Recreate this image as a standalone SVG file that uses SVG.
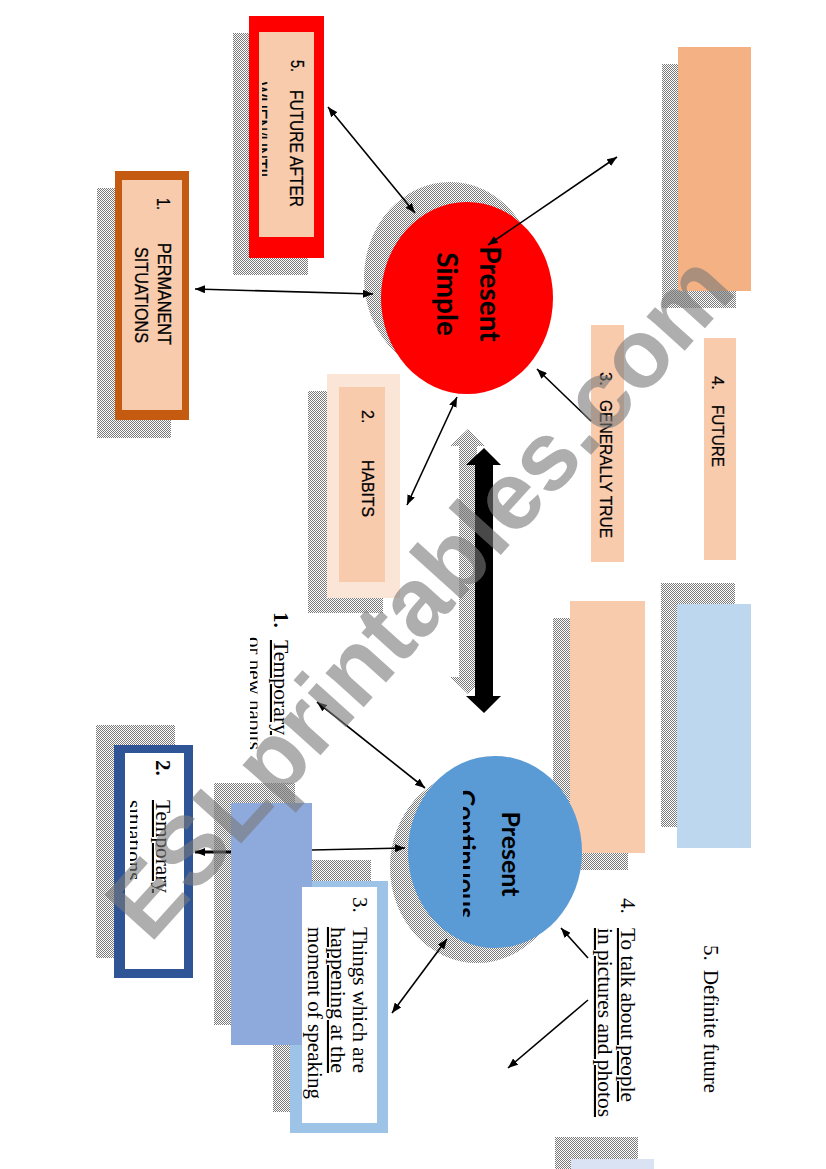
<svg xmlns="http://www.w3.org/2000/svg" width="826" height="1169" viewBox="0 0 826 1169">
<defs>
<pattern id="dots" width="2" height="2" patternUnits="userSpaceOnUse">
<rect width="2" height="2" fill="#fff"/>
<rect width="1" height="1" fill="#7a7a7a"/>
<rect x="1" y="1" width="1" height="1" fill="#7a7a7a"/>
</pattern>
<marker id="ah" viewBox="0 0 10 8" refX="10" refY="4" markerWidth="10" markerHeight="8" markerUnits="userSpaceOnUse" orient="auto-start-reverse">
<path d="M0,0 L10,4 L0,8 z" fill="#000"/>
</marker>
<clipPath id="c5"><rect x="262" y="0" width="100" height="300"/></clipPath>
<clipPath id="cT1"><rect x="250" y="600" width="7.5" height="200"/></clipPath>
<clipPath id="cT2"><rect x="130" y="760" width="8" height="200"/></clipPath>
<clipPath id="cPC"><rect x="463" y="760" width="100" height="200"/></clipPath>
</defs>
<style>
.sh{fill:url(#dots)}
.sans{font-family:"Liberation Sans",Arial,sans-serif;font-size:18px;fill:#000;stroke:#000;stroke-width:0.25}
.serif{font-family:"Liberation Serif","Times New Roman",serif;font-size:21px;fill:#000}
.big{font-family:Lato,"Liberation Sans",sans-serif;font-weight:bold;fill:#000}
.conn line{stroke:#000;stroke-width:1.6;fill:none}
.pe{fill:#F8CBAD}
</style>
<rect width="826" height="1169" fill="#fff"/>

<g id="box5">
<rect class="sh" x="233" y="33" width="75" height="242"/>
<rect x="249" y="16" width="75" height="242" fill="#FF0000"/>
<rect class="pe" x="259" y="32" width="55" height="205"/>
<text class="sans" transform="translate(291,60) rotate(90)" textLength="12" lengthAdjust="spacingAndGlyphs">5.</text>
<text class="sans" transform="translate(290,90) rotate(90)" textLength="117" lengthAdjust="spacingAndGlyphs">FUTURE AFTER</text>
<g clip-path="url(#c5)"><text class="sans" transform="translate(254,82) rotate(90)" textLength="100" lengthAdjust="spacingAndGlyphs">WHEN/UNTIL</text></g>
</g>

<g id="box1">
<rect class="sh" x="97" y="188" width="74" height="250"/>
<rect x="115" y="171" width="74" height="249" fill="#C55A11"/>
<rect class="pe" x="122" y="180" width="60" height="230"/>
<text class="sans" transform="translate(157,198) rotate(90)" textLength="12" lengthAdjust="spacingAndGlyphs">1.</text>
<text class="sans" transform="translate(158,243) rotate(90)" textLength="102" lengthAdjust="spacingAndGlyphs">PERMANENT</text>
<text class="sans" transform="translate(135,247) rotate(90)" textLength="96" lengthAdjust="spacingAndGlyphs">SITUATIONS</text>
</g>

<g id="orangeRect">
<rect class="sh" x="662" y="64" width="74" height="244"/>
<rect x="678" y="47" width="73" height="244" fill="#F4B183"/>
</g>

<g id="box3gen">
<rect class="pe" x="591" y="325" width="33" height="237"/>
<text class="sans" style="font-size:16.5px" transform="translate(600,372) rotate(90)">3.</text>
<text class="sans" style="font-size:16.5px" transform="translate(600,400) rotate(90)" textLength="138" lengthAdjust="spacingAndGlyphs">GENERALLY TRUE</text>
</g>

<g id="box4future">
<rect class="pe" x="704" y="338" width="32" height="222"/>
<text class="sans" style="font-size:16.5px" transform="translate(711.5,376) rotate(90)">4.</text>
<text class="sans" style="font-size:16.5px" transform="translate(711.5,405) rotate(90)" textLength="62" lengthAdjust="spacingAndGlyphs">FUTURE</text>
</g>

<g id="boxHabits">
<rect class="sh" x="308" y="391" width="75" height="222"/>
<rect x="327" y="374" width="73" height="224" fill="#FBE5D6"/>
<rect class="pe" x="339" y="387" width="46" height="195"/>
<text class="sans" style="font-size:16px" transform="translate(362,410) rotate(90)">2.</text>
<text class="sans" style="font-size:16px" transform="translate(362,460) rotate(90)" textLength="57" lengthAdjust="spacingAndGlyphs">HABITS</text>
</g>

<g id="presentSimple">
<ellipse class="sh" cx="450" cy="278" rx="86" ry="96"/>
<ellipse cx="467" cy="298" rx="86" ry="96" fill="#FF0000"/>
<text class="big" font-size="28" text-anchor="middle" transform="translate(480,294) rotate(90)">Present</text>
<text class="big" font-size="28" text-anchor="middle" transform="translate(437,294) rotate(90)">Simple</text>
</g>

<g id="bigArrow">
<polygon class="sh" points="468,429 485,446 477,446 477,677 485,677 468,694 450,677 459,677 459,446 450,446"/>
<polygon points="484,448 501,465 493,465 493,696 501,696 484,713 466,696 475,696 475,465 466,465" fill="#000"/>
</g>

<g id="peachRect2">
<rect class="sh" x="553" y="618" width="75" height="252"/>
<rect class="pe" x="570" y="601" width="75" height="252"/>
</g>

<g id="blueRect">
<rect class="sh" x="661" y="583" width="74" height="244"/>
<rect x="677" y="604" width="74" height="244" fill="#BDD7EE"/>
</g>

<g id="bottomRect">
<rect class="sh" x="555" y="1137" width="83" height="40"/>
<rect x="571" y="1159" width="83" height="20" fill="#DAE3F3"/>
</g>

<g id="presentContinuous">
<ellipse class="sh" cx="477" cy="867" rx="87" ry="96"/>
<ellipse cx="495" cy="852" rx="87" ry="96" fill="#5B9BD5"/>
<text class="big" font-size="25" text-anchor="middle" transform="translate(502,854) rotate(90)">Present</text>
<g clip-path="url(#cPC)"><text class="big" font-size="25" text-anchor="middle" transform="translate(457,854) rotate(90)">Continuous</text></g>
</g>

<g id="tempHabits">
<text class="serif" font-weight="bold" transform="translate(274,612) rotate(90)">1.</text>
<text class="serif" text-decoration="underline" transform="translate(274,640) rotate(90)" textLength="95" lengthAdjust="spacingAndGlyphs">Temporary</text>
<g clip-path="url(#cT1)"><text class="serif" transform="translate(248,637) rotate(90)" textLength="113" lengthAdjust="spacingAndGlyphs">or new habits</text></g>
</g>

<g id="box2temp">
<rect class="sh" x="96" y="725" width="79" height="233"/>
<rect x="114" y="745" width="79" height="233" fill="#2F5597"/>
<rect x="125" y="753" width="59" height="216" fill="#fff"/>
<text class="serif" font-weight="bold" transform="translate(156,760) rotate(90)">2.</text>
<text class="serif" text-decoration="underline" transform="translate(156,800) rotate(90)" textLength="93" lengthAdjust="spacingAndGlyphs">Temporary</text>
<g clip-path="url(#cT2)"><text class="serif" transform="translate(127,800) rotate(90)">situations</text></g>
</g>

<g id="box3things">
<rect class="sh" x="273" y="860" width="98" height="252"/>
<rect x="290" y="881" width="98" height="252" fill="#9DC3E6"/>
</g>

<g id="violetRect">
<rect class="sh" x="214" y="783" width="81" height="242"/>
<rect x="231" y="803" width="81" height="242" fill="#8EA9DB"/>
</g>

<g id="box3text">
<rect x="302" y="887" width="75" height="236" fill="#fff"/>
<text class="serif" transform="translate(353,897) rotate(90)">3.</text>
<text class="serif" transform="translate(353,927) rotate(90)" textLength="146" lengthAdjust="spacingAndGlyphs">Things which are</text>
<text class="serif" text-decoration="underline" transform="translate(331,927) rotate(90)" textLength="146" lengthAdjust="spacingAndGlyphs">happening at the</text>
<text class="serif" transform="translate(308,927) rotate(90)" textLength="172" lengthAdjust="spacingAndGlyphs">moment of speaking</text>
</g>

<g id="text4">
<text class="serif" transform="translate(621,898) rotate(90)">4.</text>
<text class="serif" text-decoration="underline" transform="translate(621,928) rotate(90)" textLength="174" lengthAdjust="spacingAndGlyphs">To talk about people</text>
<text class="serif" text-decoration="underline" transform="translate(598,928) rotate(90)" textLength="189" lengthAdjust="spacingAndGlyphs">in pictures and photos</text>
</g>

<g id="text5">
<text class="serif" transform="translate(704,945) rotate(90)">5.</text>
<text class="serif" transform="translate(704,970) rotate(90)" textLength="123" lengthAdjust="spacingAndGlyphs">Definite future</text>
</g>

<g id="connectors" class="conn">
<line x1="488" y1="245" x2="617" y2="157" marker-start="url(#ah)" marker-end="url(#ah)"/>
<line x1="328" y1="107" x2="415" y2="213" marker-start="url(#ah)" marker-end="url(#ah)"/>
<line x1="195" y1="289" x2="373" y2="294" marker-start="url(#ah)" marker-end="url(#ah)"/>
<line x1="591" y1="421" x2="537" y2="369" marker-end="url(#ah)"/>
<line x1="407" y1="505" x2="457" y2="397" marker-start="url(#ah)" marker-end="url(#ah)"/>
<line x1="317" y1="702" x2="425" y2="788" marker-start="url(#ah)" marker-end="url(#ah)"/>
<line x1="312" y1="850" x2="405" y2="848" marker-end="url(#ah)"/>
<line x1="231" y1="852" x2="195" y2="852" style="stroke-width:3" marker-end="url(#ah)"/>
<line x1="392" y1="1013" x2="447" y2="939" marker-start="url(#ah)" marker-end="url(#ah)"/>
<line x1="588" y1="958" x2="561" y2="928" marker-end="url(#ah)"/>
<line x1="588" y1="1000" x2="508" y2="1068" marker-end="url(#ah)"/>
</g>

<text id="watermark" font-family="Liberation Sans, Arial, sans-serif" font-weight="bold" font-size="97" fill="#7a7a7a" opacity="0.6" text-anchor="middle" transform="translate(444,618) rotate(-48)">ESLprintables.com</text>
</svg>
